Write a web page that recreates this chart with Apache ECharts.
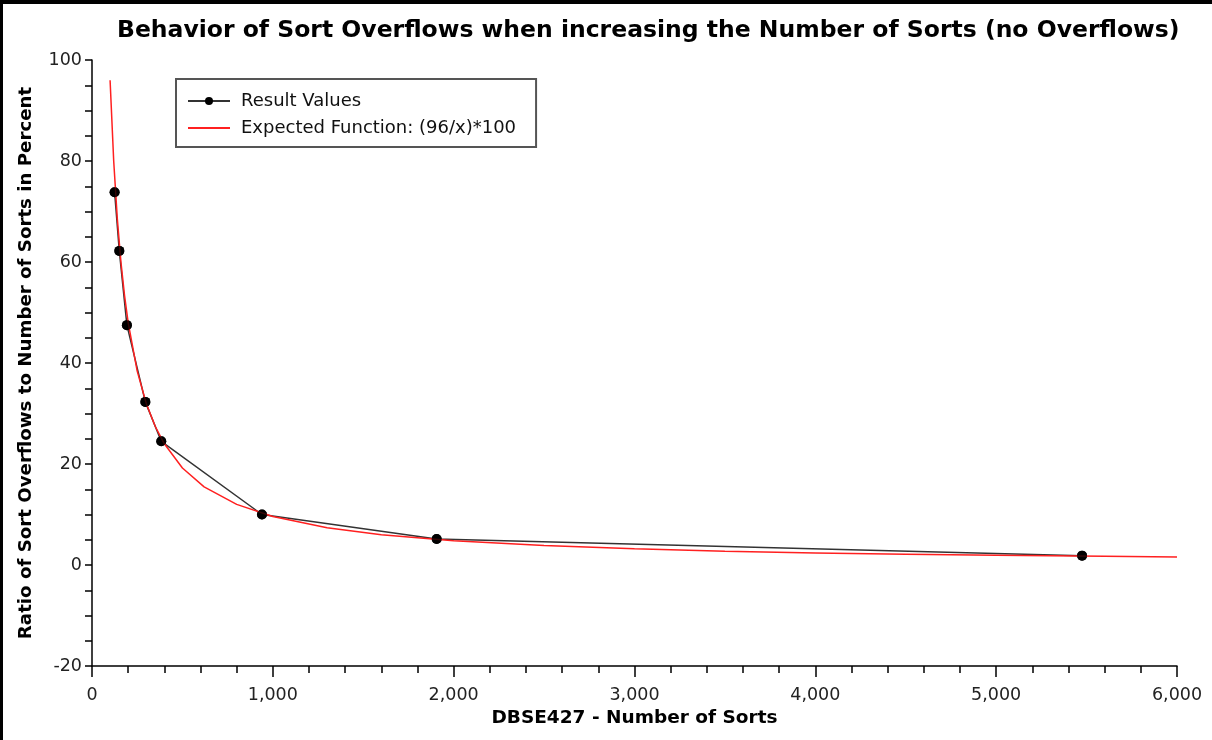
<!DOCTYPE html>
<html>
<head>
<meta charset="utf-8">
<title>Sort Overflows</title>
<script src="https://cdn.jsdelivr.net/npm/echarts@6/dist/echarts.min.js"></script>
<style>
  html, body { margin: 0; padding: 0; background: #fff; }
  #chart { width: 1212px; height: 740px; }
</style>
</head>
<body>
<div id="chart"></div>
<script>
// Measured result values: number of sorts vs. overflow ratio (%)
const resultSorts = [125, 151, 193, 295, 383, 940, 1906, 5475];
const resultRatio = [73.8, 62.2, 47.5, 32.3, 24.5, 10.0, 5.15, 1.85];

// Expected function (96/x)*100, tabulated at the plotted sample points
const expectedSorts = [100, 120, 140, 160, 180, 200, 250, 300, 350, 400, 500, 620, 800, 1000, 1300, 1600, 2000, 2500, 3000, 3500, 4000, 4500, 5000, 5600, 6000];
const expectedRatio = [96.0, 80.0, 68.57, 60.0, 53.33, 48.0, 38.4, 32.0, 27.43, 24.0, 19.2, 15.48, 12.0, 9.6, 7.38, 6.0, 4.8, 3.84, 3.2, 2.74, 2.4, 2.13, 1.92, 1.71, 1.6];

const seriesNames = ['Result Values', 'Expected Function: (96/x)*100'];
const xTicks = { min: 0, max: 6000, step: 1000 };
const yTicks = { min: -20, max: 100, step: 20 };

const pairs = (xs, ys) => xs.map((x, i) => [x, ys[i]]);

const chart = echarts.init(document.getElementById('chart'), null, { renderer: 'canvas' });
const FONT = 'DejaVu Sans';
const fmt = v => v.toLocaleString('en-US');

chart.setOption({
  backgroundColor: '#ffffff',
  animation: false,
  title: {
    text: 'Behavior of Sort Overflows when increasing the Number of Sorts (no Overflows)',
    left: 112,
    top: 14,
    textStyle: { fontFamily: FONT, fontWeight: 'bold', fontSize: 23.5, color: '#000' }
  },
  legend: {
    data: [
      { name: seriesNames[0] },
      { name: seriesNames[1], itemStyle: { opacity: 0 } }
    ],
    orient: 'vertical',
    left: 176,
    top: 79,
    padding: [13, 20, 10, 11],
    itemGap: 9,
    itemWidth: 42,
    itemHeight: 10,
    backgroundColor: '#fff',
    borderColor: '#555',
    borderWidth: 2,
    textStyle: { fontFamily: FONT, fontSize: 18, color: '#111', padding: [0, 0, 0, 6] }
  },
  grid: { left: 92, right: 35, top: 60, bottom: 74, containLabel: false },
  xAxis: {
    type: 'value',
    min: xTicks.min,
    max: xTicks.max,
    interval: xTicks.step,
    name: 'DBSE427 - Number of Sorts',
    nameLocation: 'middle',
    nameGap: 43,
    nameTextStyle: { fontFamily: FONT, fontWeight: 'bold', fontSize: 18.5, color: '#000' },
    axisLine: { show: true, onZero: false, lineStyle: { color: '#000', width: 1.5 } },
    axisTick: { show: true, length: 11, lineStyle: { color: '#000', width: 1.5 } },
    minorTick: { show: true, splitNumber: 5, length: 7, lineStyle: { color: '#000', width: 1.5 } },
    splitLine: { show: false },
    axisLabel: { margin: 20, fontFamily: FONT, fontSize: 17.5, color: '#222', formatter: fmt }
  },
  yAxis: {
    type: 'value',
    min: yTicks.min,
    max: yTicks.max,
    interval: yTicks.step,
    name: 'Ratio of Sort Overflows to Number of Sorts in Percent',
    nameLocation: 'middle',
    nameGap: 57,
    nameTextStyle: { fontFamily: FONT, fontWeight: 'bold', fontSize: 18.2, color: '#000' },
    axisLine: { show: true, onZero: false, lineStyle: { color: '#000', width: 1.5 } },
    axisTick: { show: true, length: 7, lineStyle: { color: '#000', width: 1.5 } },
    minorTick: { show: true, splitNumber: 4, length: 7, lineStyle: { color: '#000', width: 1.5 } },
    splitLine: { show: false },
    axisLabel: { margin: 10, fontFamily: FONT, fontSize: 17.5, color: '#222' }
  },
  graphic: [
    { type: 'rect', left: 0, top: 0, shape: { width: 1212, height: 4 }, style: { fill: '#000' }, z: 100 },
    { type: 'rect', left: 0, top: 0, shape: { width: 3, height: 740 }, style: { fill: '#000' }, z: 100 }
  ],
  series: [
    {
      name: seriesNames[0],
      type: 'line',
      data: pairs(resultSorts, resultRatio),
      symbol: 'circle',
      symbolSize: 10,
      showSymbol: true,
      itemStyle: { color: '#000' },
      lineStyle: { color: '#333', width: 1.5 },
      z: 2
    },
    {
      name: seriesNames[1],
      type: 'line',
      data: pairs(expectedSorts, expectedRatio),
      symbol: 'none',
      showSymbol: false,
      itemStyle: { color: '#ff2020' },
      lineStyle: { color: '#ff2020', width: 1.5 },
      z: 3
    },
    {
      name: seriesNames[0],
      type: 'scatter',
      data: pairs(resultSorts, resultRatio),
      symbol: 'circle',
      symbolSize: 10,
      itemStyle: { color: '#000' },
      z: 4
    }
  ]
});
</script>
</body>
</html>
